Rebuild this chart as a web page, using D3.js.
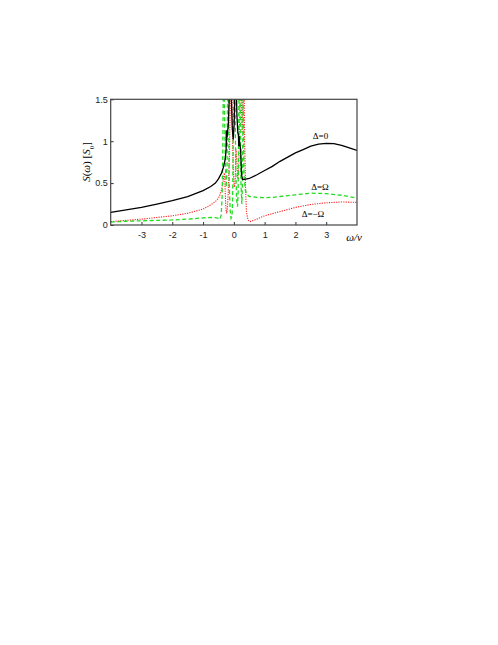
<!DOCTYPE html>
<html><head><meta charset="utf-8">
<script src="https://cdn.jsdelivr.net/npm/d3@7"></script>
<style>body{margin:0;background:#fff}svg{display:block}</style>
</head><body>
<svg id="c" width="498" height="645"></svg>
<script>
// ---- data ----
const xTicks = [-3, -2, -1, 0, 1, 2, 3];
const xTickLabels = ["-3", "-2", "-1", "0", "1", "2", "3"];
const yTicks = [0, 0.5, 1, 1.5];
const yTickLabels = ["0", "0.5", "1", "1.5"];

const blackX = [-4,-3.5,-3,-2.5,-2,-1.5,-1,-0.75,-0.6,-0.5,-0.4,-0.33,-0.28,-0.25,-0.245,-0.24,-0.235,-0.22,-0.18,-0.14,-0.11,-0.08,-0.05,-0.02,0.01,0.04,0.07,0.1,0.13,0.15,0.16,0.17,0.19,0.22,0.25,0.28,0.35,0.5,0.75,1,1.25,1.5,1.75,2,2.25,2.5,2.75,3,3.25,3.5,3.75,4];
const blackY = [0.15,0.18,0.21,0.25,0.29,0.34,0.41,0.46,0.5,0.55,0.62,0.7,0.79,0.9,1.13,0.95,1.1,1.05,1.2,1.6,1.9,1.5,1.15,1.02,1.2,1.7,1.8,1.3,1.1,1.07,0.94,1.06,0.98,0.9,0.6,0.545,0.545,0.555,0.6,0.65,0.7,0.76,0.81,0.86,0.9,0.94,0.965,0.975,0.97,0.95,0.92,0.89];

const greenX = [-4,-3.5,-3,-2.5,-2,-1.5,-1,-0.75,-0.6,-0.5,-0.45,-0.41,-0.38,-0.36,-0.34,-0.32,-0.3,-0.28,-0.25,-0.22,-0.2,-0.18,-0.15,-0.12,-0.09,-0.06,-0.04,-0.02,0,0.03,0.06,0.09,0.12,0.14,0.17,0.2,0.23,0.26,0.28,0.3,0.33,0.37,0.42,0.5,0.75,1,1.25,1.5,2,2.5,3,3.5,4];
const greenY = [0.035,0.045,0.05,0.055,0.06,0.07,0.085,0.09,0.087,0.078,0.07,0.12,0.35,0.8,1.8,2,1.3,0.8,0.45,0.7,1.8,1.6,0.5,0.18,0.08,0.1,0.3,1.0,2,1.9,0.7,0.3,0.22,0.4,1.8,1.7,0.5,0.25,0.5,1.6,0.6,0.42,0.37,0.34,0.33,0.325,0.33,0.34,0.36,0.38,0.375,0.355,0.32];

const redX = [-4,-3.5,-3,-2.5,-2,-1.5,-1,-0.75,-0.6,-0.5,-0.45,-0.4,-0.35,-0.31,-0.29,-0.27,-0.25,-0.23,-0.21,-0.18,-0.14,-0.11,-0.09,-0.07,-0.05,-0.02,0.01,0.04,0.07,0.1,0.13,0.16,0.19,0.21,0.23,0.25,0.27,0.29,0.31,0.33,0.35,0.38,0.41,0.46,0.52,0.6,0.75,1,1.5,2,2.5,3,3.5,4];
const redY = [0.04,0.055,0.07,0.09,0.11,0.14,0.19,0.24,0.28,0.32,0.36,0.42,0.52,0.62,0.5,0.28,0.17,0.14,0.2,0.4,0.9,1.6,2,1.9,1.2,0.65,0.45,0.5,0.9,0.75,0.55,0.7,1.3,2,1.9,1.3,1.1,1.5,2,1.8,1.0,0.45,0.15,0.06,0.04,0.05,0.07,0.11,0.16,0.21,0.245,0.265,0.275,0.27];

// ---- layout ----
const svg = d3.select("#c");
const L = 110.7, R = 357, T = 99.3, B = 225;
const x = d3.scaleLinear().domain([-4, 4]).range([L, R]);
const y = d3.scaleLinear().domain([0, 1.5]).range([B, T]);

svg.append("defs").append("clipPath").attr("id", "clip")
  .append("rect").attr("x", L).attr("y", T).attr("width", R - L).attr("height", B - T);

const line = d3.line().x(d => x(d[0])).y(d => y(d[1]));
const g = svg.append("g").attr("clip-path", "url(#clip)");

g.append("path").datum(d3.zip(redX, redY)).attr("d", line)
  .attr("fill", "none").attr("stroke", "#ff2020").attr("stroke-width", 1.1)
  .attr("stroke-dasharray", "1.2,1.2");
g.append("path").datum(d3.zip(greenX, greenY)).attr("d", line)
  .attr("fill", "none").attr("stroke", "#22dd22").attr("stroke-width", 1.3)
  .attr("stroke-dasharray", "4,2.5");
g.append("path").datum(d3.zip(blackX, blackY)).attr("d", line)
  .attr("fill", "none").attr("stroke", "#000").attr("stroke-width", 1.3);

// axes
const font = "'Liberation Sans', Arial, sans-serif";
const xAxis = d3.axisBottom(x).tickValues(xTicks).tickSize(-3).tickPadding(7).tickFormat((d, i) => xTickLabels[i]);
const ga = svg.append("g").attr("transform", `translate(0,${B})`).call(xAxis);
const yAxis = d3.axisLeft(y).tickValues(yTicks).tickSize(-3).tickPadding(3).tickFormat((d, i) => yTickLabels[i]);
const gy = svg.append("g").attr("transform", `translate(${L},0)`).call(yAxis);
[ga, gy].forEach(a => {
  a.select(".domain").remove();
  a.selectAll(".tick line").attr("stroke", "#333");
  a.selectAll("text").attr("font-family", font).attr("font-size", 9).attr("fill", "#222");
});
// frame
svg.append("rect").attr("x", L).attr("y", T).attr("width", R - L).attr("height", B - T)
  .attr("fill", "none").attr("stroke", "#444").attr("stroke-width", 1.2);

// labels
svg.append("text").attr("x", 354).attr("y", 241).attr("text-anchor", "middle")
  .attr("font-family", "'Liberation Serif', serif").attr("font-style", "italic").attr("font-size", 11)
  .text("ω/ν");
svg.append("text").attr("transform", "translate(90,162) rotate(-90)").attr("text-anchor", "middle")
  .attr("font-family", "'Liberation Serif', serif").attr("font-size", 11)
  .html('<tspan font-style="italic">S</tspan>(<tspan font-style="italic">ω</tspan>) [<tspan font-style="italic">S</tspan><tspan baseline-shift="sub" font-size="7">0</tspan>]');
const ann = [["Δ=0", 320.5, 139], ["Δ=Ω", 320, 190], ["Δ=−Ω", 313, 217]];
ann.forEach(a => svg.append("text").attr("x", a[1]).attr("y", a[2]).attr("text-anchor", "middle")
  .attr("font-family", "'Liberation Serif', serif").attr("font-size", 9).text(a[0]));
</script>
</body></html>
